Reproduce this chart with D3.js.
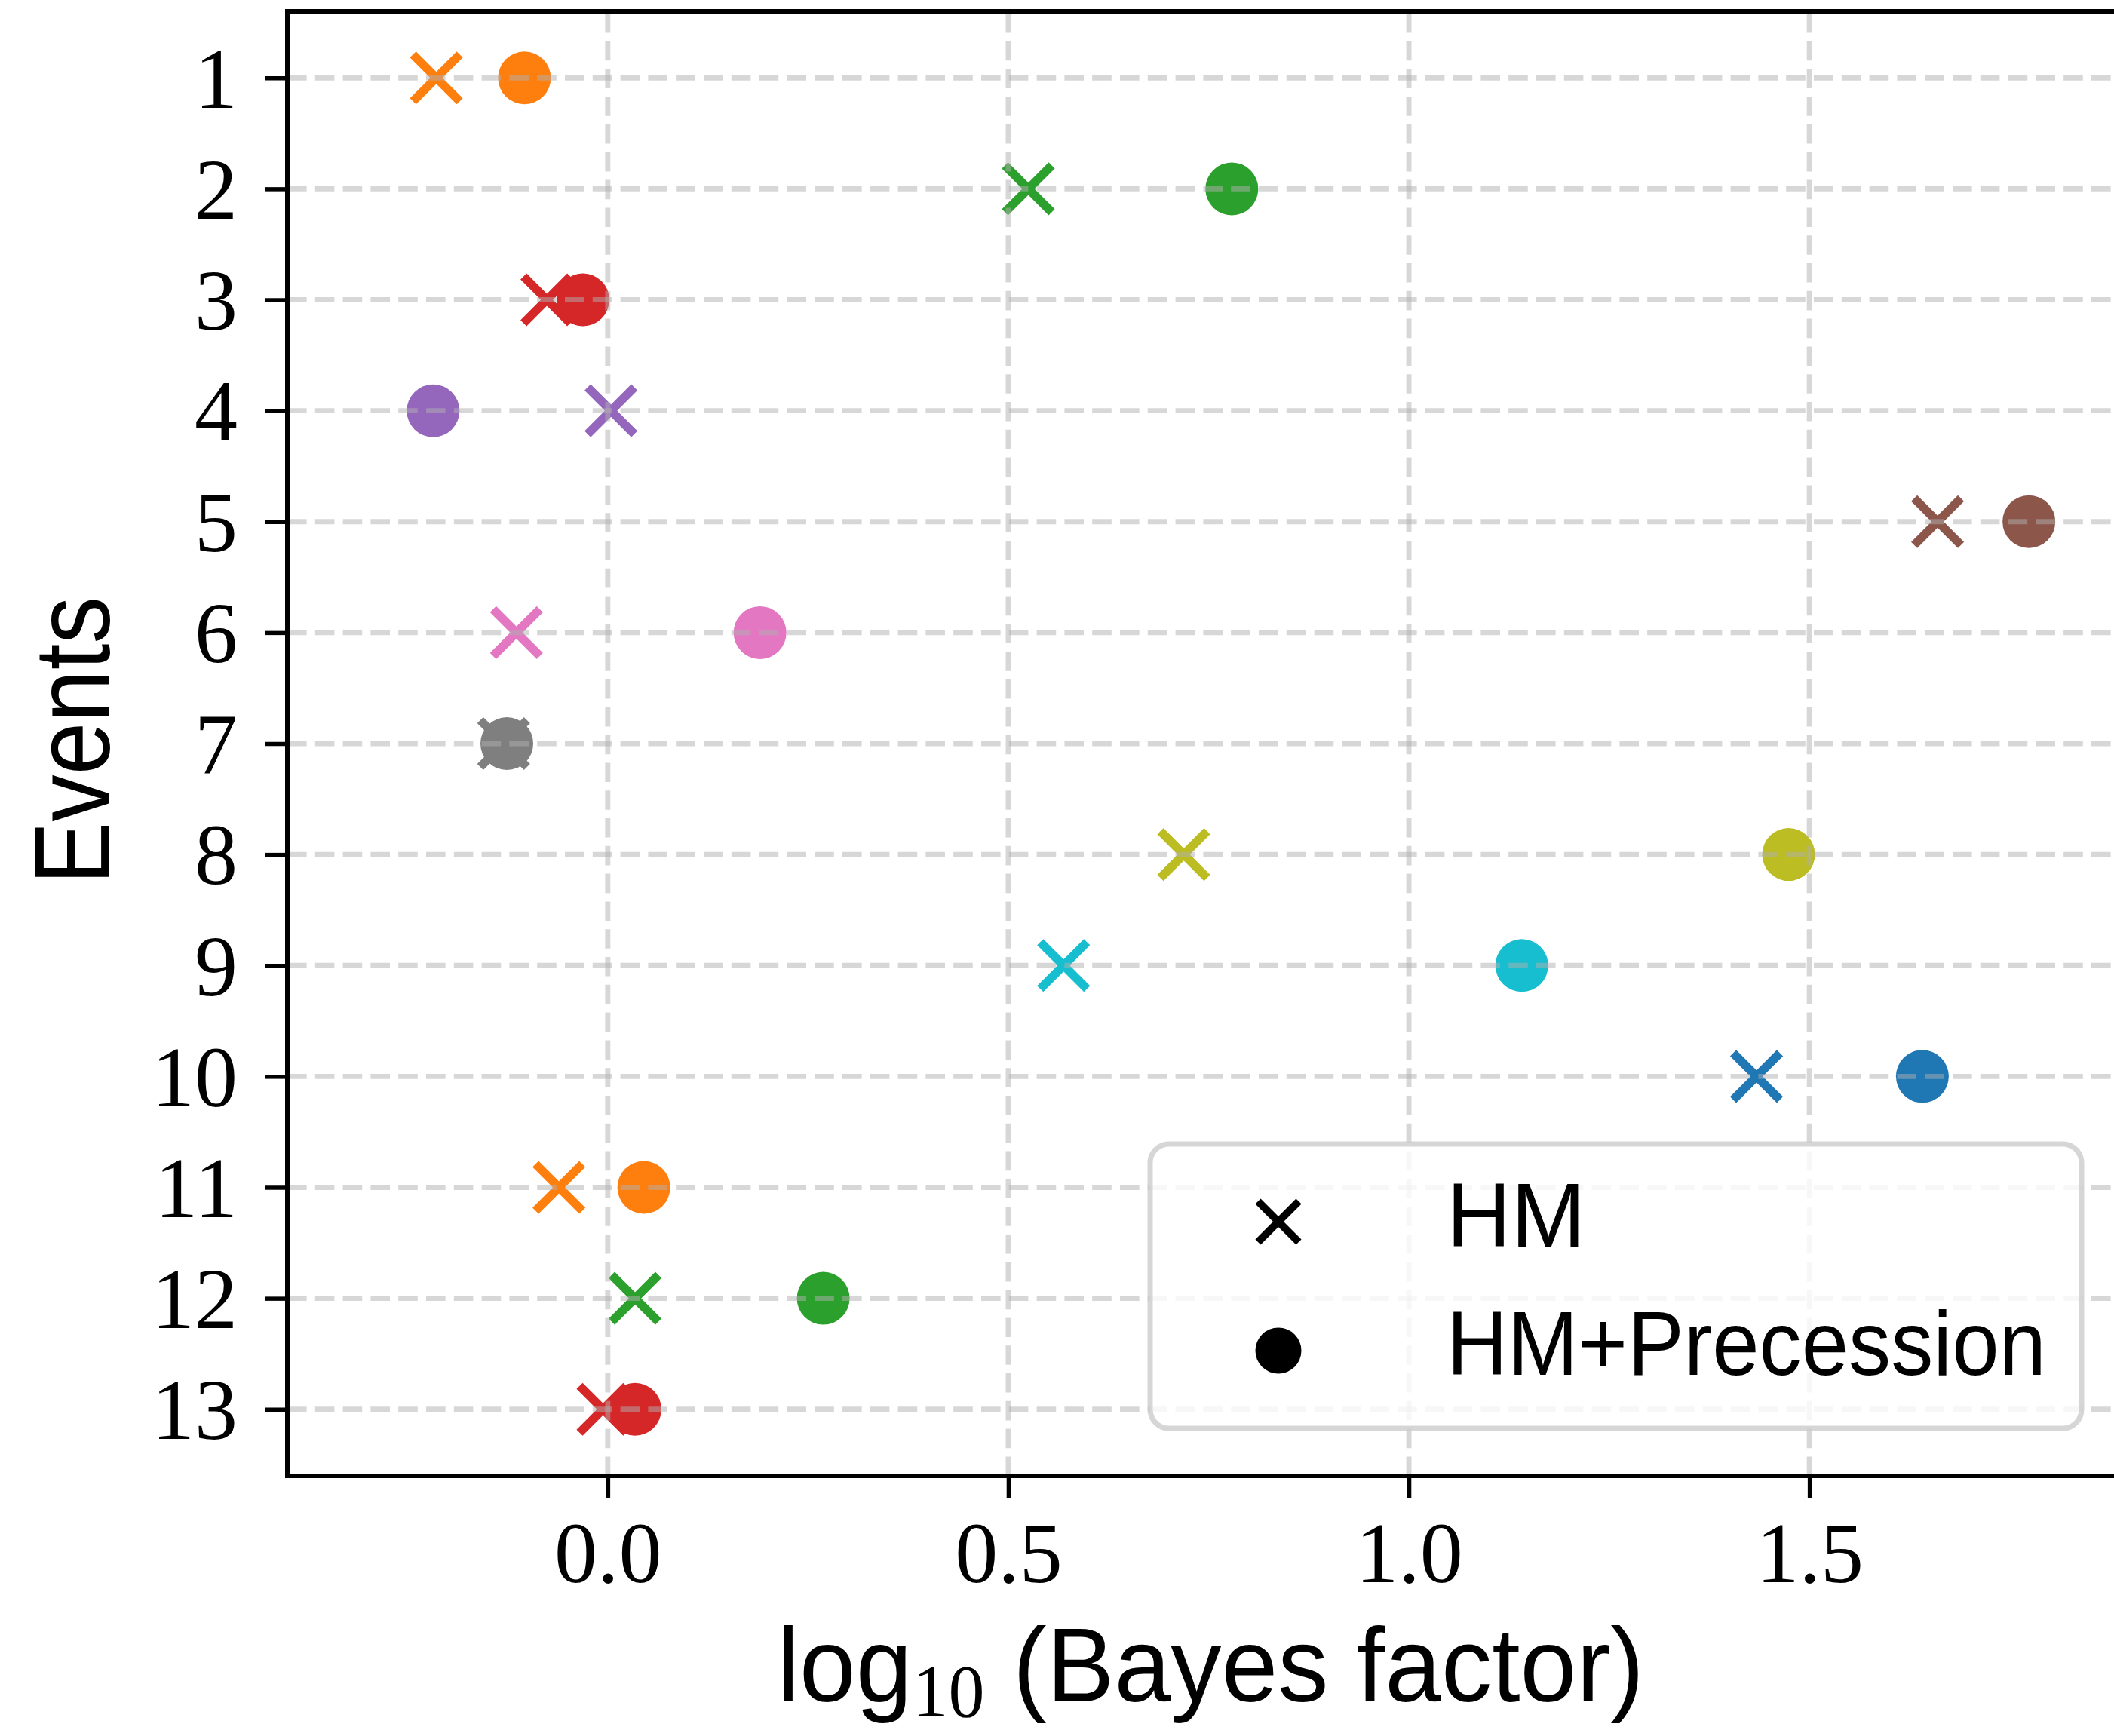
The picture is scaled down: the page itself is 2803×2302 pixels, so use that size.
<!DOCTYPE html>
<html>
<head>
<meta charset="utf-8">
<script src="https://cdn.jsdelivr.net/npm/d3@7"></script>
<style>
  html, body { margin: 0; padding: 0; background: #ffffff; }
  svg { display: block; }
</style>
</head>
<body>
<svg id="chart" width="2803" height="2302"></svg>
<script>
// ---------------- data ----------------
const events = [1, 2, 3, 4, 5, 6, 7, 8, 9, 10, 11, 12, 13];
const hmValues = [-0.214, 0.525, -0.076, 0.004, 1.660, -0.114, -0.130, 0.719, 0.569, 1.434, -0.061, 0.034, -0.006];
const hmPrecessionValues = [-0.104, 0.779, -0.031, -0.218, 1.774, 0.190, -0.126, 1.474, 1.141, 1.641, 0.045, 0.269, 0.034];
const xTickValues = [0.0, 0.5, 1.0, 1.5];
const seriesLabels = ["HM", "HM+Precession"];
const xLabelMain = "log";
const xLabelSub = "10";
const xLabelRest = " (Bayes factor)";
const yLabel = "Events";
const palette = ["#1f77b4", "#ff7f0e", "#2ca02c", "#d62728", "#9467bd",
                 "#8c564b", "#e377c2", "#7f7f7f", "#bcbd22", "#17becf"];

(function () {
// ---------------- layout ----------------
const svg = d3.select("#chart");
const pL = 381, pR = 2824, pT = 15, pB = 1957;

const x = d3.scaleLinear().domain([-0.4, 1.9]).range([pL, pR]);
const y = d3.scaleLinear().domain([0.4, 13.6]).range([pT, pB]);
const color = e => palette[e % 10];

const SANS = "'Liberation Sans', Arial, sans-serif";
const SERIF = "'Liberation Serif', 'Times New Roman', serif";

svg.append("rect").attr("width", 2803).attr("height", 2302).attr("fill", "#ffffff");

// ---------------- markers ----------------
const R = 35, XA = 31, XW = 11.5;
const xPath = a => `M${-a},${-a}L${a},${a}M${-a},${a}L${a},${-a}`;
const marks = svg.append("g");
events.forEach((e, i) => {
  marks.append("path")
    .attr("d", xPath(XA))
    .attr("transform", `translate(${x(hmValues[i])},${y(e)})`)
    .attr("stroke", color(e)).attr("stroke-width", XW).attr("fill", "none");
  marks.append("circle")
    .attr("cx", x(hmPrecessionValues[i])).attr("cy", y(e)).attr("r", R)
    .attr("fill", color(e));
});

// ---------------- grid (drawn above markers) ----------------
const grid = svg.append("g")
  .attr("stroke", "#b0b0b0").attr("stroke-opacity", 0.5)
  .attr("stroke-width", 6.9).attr("stroke-dasharray", "25.6,11.2").attr("fill", "none");
xTickValues.forEach(v => {
  grid.append("path").attr("d", `M${x(v)},${pB}L${x(v)},${pT}`);
});
events.forEach(e => {
  grid.append("path").attr("d", `M${pL},${y(e)}L${pR},${y(e)}`);
});

// ---------------- axes ----------------
const yAxis = d3.axisLeft(y).tickValues(events).tickFormat(d3.format("d"))
  .tickSize(30).tickPadding(36);
const yg = svg.append("g").attr("transform", `translate(${pL},0)`).call(yAxis);
yg.select(".domain").remove();
yg.selectAll(".tick line").attr("stroke", "#000").attr("stroke-width", 5.5);
yg.selectAll(".tick text").attr("font-family", SERIF).attr("font-size", 114)
  .attr("fill", "#000").attr("dy", "0.34em");

const xAxis = d3.axisBottom(x).tickValues(xTickValues).tickFormat(d3.format(".1f"))
  .tickSize(30).tickPadding(36);
const xg = svg.append("g").attr("transform", `translate(0,${pB})`).call(xAxis);
xg.select(".domain").remove();
xg.selectAll(".tick line").attr("stroke", "#000").attr("stroke-width", 5.5);
xg.selectAll(".tick text").attr("font-family", SERIF).attr("font-size", 114)
  .attr("fill", "#000").attr("y", 141).attr("dy", 0);

// spines
const spines = svg.append("g").attr("stroke", "#000").attr("stroke-width", 6)
  .attr("stroke-linecap", "square").attr("fill", "none");
spines.append("path").attr("d", `M${pL},${pT}L${pL},${pB}`);
spines.append("path").attr("d", `M${pL},${pB}L${pR},${pB}`);
spines.append("path").attr("d", `M${pL},${pT}L${pR},${pT}`);
spines.append("path").attr("d", `M${pR},${pT}L${pR},${pB}`);

// ---------------- axis labels ----------------
const xl = svg.append("g");
const xlt = xl.append("text").attr("x", 0).attr("y", 0)
  .attr("text-anchor", "middle").attr("fill", "#000")
  .attr("font-family", SANS).attr("font-size", 140);
xlt.append("tspan").text(xLabelMain);
xlt.append("tspan").attr("font-family", SERIF).attr("font-size", 100).attr("dy", 20).text(xLabelSub);
xlt.append("tspan").attr("dy", -20).text(xLabelRest);
const xlw = xlt.node().getComputedTextLength() || 1200;
xl.attr("transform", `translate(1605,2256) scale(${1150 / xlw},1)`);

svg.append("text")
  .attr("transform", "translate(145,982) rotate(-90)")
  .attr("text-anchor", "middle").attr("fill", "#000")
  .attr("font-family", SANS).attr("font-size", 142)
  .attr("textLength", 382).attr("lengthAdjust", "spacingAndGlyphs")
  .text(yLabel);

// ---------------- legend ----------------
const lg = svg.append("g");
lg.append("rect")
  .attr("x", 1525).attr("y", 1517).attr("width", 1235).attr("height", 377)
  .attr("rx", 25).attr("ry", 25)
  .attr("fill", "#ffffff").attr("fill-opacity", 0.8)
  .attr("stroke", "#cccccc").attr("stroke-opacity", 0.8).attr("stroke-width", 7);
lg.append("path").attr("d", xPath(27)).attr("transform", "translate(1695,1620)")
  .attr("stroke", "#000").attr("stroke-width", 10).attr("fill", "none");
lg.append("circle").attr("cx", 1695).attr("cy", 1791).attr("r", 30.5).attr("fill", "#000");
lg.append("text").attr("x", 1918).attr("y", 1653)
  .attr("font-family", SANS).attr("font-size", 120).attr("fill", "#000")
  .attr("textLength", 184).attr("lengthAdjust", "spacingAndGlyphs")
  .text(seriesLabels[0]);
lg.append("text").attr("x", 1918).attr("y", 1823)
  .attr("font-family", SANS).attr("font-size", 120).attr("fill", "#000")
  .attr("textLength", 795).attr("lengthAdjust", "spacingAndGlyphs")
  .text(seriesLabels[1]);
})();
</script>
</body>
</html>
